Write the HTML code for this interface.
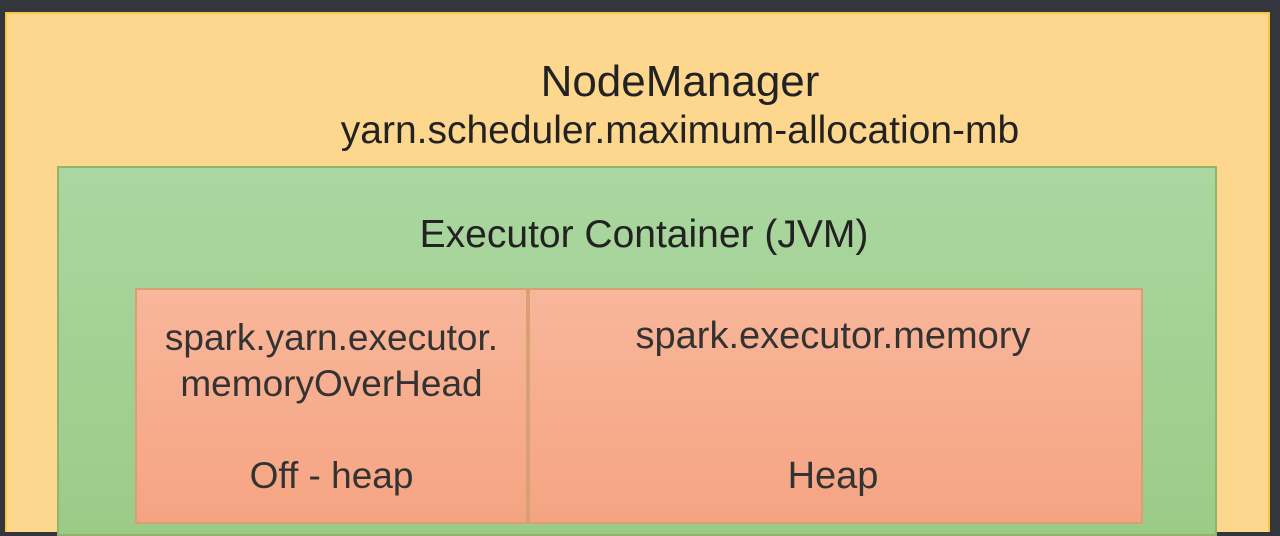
<!DOCTYPE html>
<html><head><style>
body{margin:0;width:1280px;height:528px;background:#33373d;overflow:hidden;font-family:"Liberation Sans",sans-serif;position:relative}
div{position:absolute;box-sizing:border-box}
.t{position:absolute;text-align:center;color:#222;white-space:nowrap}
</style></head><body>
<div style="left:5px;top:12px;width:1265px;height:520px;background:#fed78e;border:2px solid #f5c842;border-bottom:none"></div>
<div class="t" style="left:280px;width:800px;top:57px;font-size:44px">NodeManager</div>
<div class="t" style="left:280px;width:800px;top:109px;font-size:39px">yarn.scheduler.maximum-allocation-mb</div>
<div style="left:57px;top:166px;width:1160px;height:370px;background:linear-gradient(#aad7a0,#9ccb88);border:2px solid #93b36c"></div>
<div class="t" style="left:300px;width:688px;top:213px;font-size:39px">Executor Container (JVM)</div>
<div style="left:135px;top:288px;width:393px;height:236px;background:linear-gradient(#f8b69a,#f5a482);border:2px solid #d9a074"></div>
<div style="left:528px;top:288px;width:615px;height:236px;background:linear-gradient(#f8b69a,#f5a482);border:2px solid #d9a074"></div>
<div class="t" style="left:135px;width:393px;top:315px;font-size:37px;line-height:46px;color:#333">spark.yarn.executor.<br>memoryOverHead</div>
<div class="t" style="left:135px;width:393px;top:455px;font-size:37px;color:#333">Off - heap</div>
<div class="t" style="left:528px;width:610px;top:315px;font-size:38px;color:#333">spark.executor.memory</div>
<div class="t" style="left:528px;width:610px;top:455px;font-size:38px;color:#333">Heap</div>
</body></html>
